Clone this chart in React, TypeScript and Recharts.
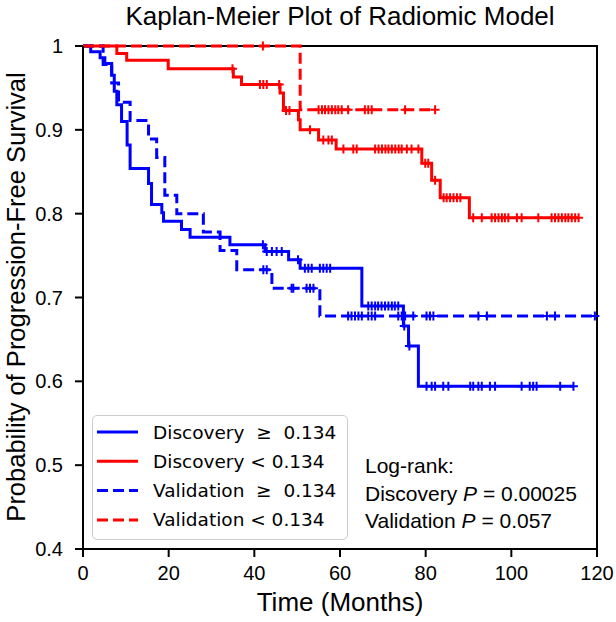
import { LineChart, Line, XAxis, YAxis, ReferenceArea } from "recharts";

const xTicks = [0, 20, 40, 60, 80, 100, 120];
const yTicks = [0.4, 0.5, 0.6, 0.7, 0.8, 0.9, 1];

// Discovery >= 0.134 (blue, solid)
const discHighTimes = [0, 1.8, 4.0, 5.1, 6.7, 7.3, 7.9, 9.0, 10.3, 11.0, 15.3, 16.0, 18.4, 18.8, 23.0, 25.0, 34.3, 42.5, 48.0, 50.7, 65.1, 74.8, 76.0, 78.3];
const discHighSurv = [1, 0.993, 0.986, 0.979, 0.965, 0.946, 0.93, 0.91, 0.882, 0.854, 0.836, 0.811, 0.801, 0.791, 0.781, 0.772, 0.763, 0.755, 0.745, 0.735, 0.69, 0.666, 0.642, 0.594];
const discHighCensor = [42.0, 42.9, 44.1, 45.2, 46.4, 50.2, 51.8, 52.6, 53.4, 55.3, 56.1, 56.9, 57.7, 66.6, 67.4, 68.2, 68.9, 69.7, 70.5, 71.3, 72.1, 72.8, 73.6, 75.0, 76.2, 80.2, 81.4, 82.2, 84.1, 85.3, 90.4, 91.1, 92.3, 93.1, 95.0, 96.2, 102.4, 104.3, 105.1, 105.9, 111.4, 114.5];

// Discovery < 0.134 (red, solid)
const discLowTimes = [0, 7.9, 10.2, 19.9, 35.1, 37.0, 46.0, 46.8, 50.3, 50.7, 55.0, 59.1, 79.1, 81.4, 83.4, 90.2];
const discLowSurv = [1, 0.991, 0.983, 0.973, 0.963, 0.954, 0.944, 0.923, 0.912, 0.9, 0.888, 0.877, 0.86, 0.84, 0.819, 0.795];
const discLowCensor = [34.9, 41.3, 42.1, 42.9, 45.8, 47.4, 48.2, 53.0, 56.1, 57.3, 58.1, 60.8, 63.1, 63.9, 68.2, 69.0, 69.8, 70.6, 71.3, 72.1, 72.9, 73.7, 74.4, 75.6, 76.7, 78.3, 79.9, 80.6, 82.2, 84.2, 84.9, 85.7, 86.5, 87.3, 88.1, 91.1, 93.1, 95.4, 96.2, 97.0, 97.8, 98.5, 99.3, 101.3, 102.4, 106.3, 109.4, 110.2, 111.0, 111.8, 112.6, 113.3, 114.1, 114.9, 115.7];

// Validation >= 0.134 (blue, dashed)
const valHighTimes = [0, 4.7, 6.7, 8.3, 11.0, 15.3, 17.2, 19.1, 21.9, 28.1, 32.0, 35.9, 44.1, 55.3];
const valHighSurv = [1, 0.978, 0.956, 0.933, 0.911, 0.889, 0.867, 0.822, 0.8, 0.778, 0.756, 0.733, 0.711, 0.678];
const valHighCensor = [42.1, 42.9, 48.7, 49.1, 52.2, 53.0, 53.8, 61.9, 62.7, 63.5, 64.3, 65.1, 66.6, 67.4, 68.2, 73.6, 74.4, 75.2, 77.1, 80.2, 81.0, 81.8, 92.3, 94.3, 108.3, 110.2, 119.5];

// Validation < 0.134 (red, dashed)
const valLowTimes = [0, 50.7];
const valLowSurv = [1, 0.924];
const valLowCensor = [42.0, 55.0, 55.8, 56.5, 57.3, 58.1, 58.9, 59.6, 60.4, 61.9, 65.8, 66.6, 67.4, 75.2, 82.2];

const legendLabels = ["Discovery  \u2265  0.134", "Discovery < 0.134", "Validation  \u2265  0.134", "Validation < 0.134"];
const logRankLines = ["Discovery", "Validation"];
const logRankP = ["0.00025", "0.057"];

const BLUE = "#0000ff";
const RED = "#ff0000";

type Pt = { t: number; s: number; c: boolean };

function buildSeries(times: number[], surv: number[], censor: number[]): Pt[] {
  const pts: Pt[] = times.map((t, i) => ({ t, s: surv[i], c: false }));
  censor.forEach((t) => {
    let s = surv[0];
    times.forEach((et, i) => {
      if (et <= t) s = surv[i];
    });
    pts.push({ t, s, c: true });
  });
  return pts.sort((a, b) => a.t - b.t || (a.c ? 1 : -1));
}

const series = [
  { key: "dh", data: buildSeries(discHighTimes, discHighSurv, discHighCensor), color: BLUE, dash: undefined },
  { key: "dl", data: buildSeries(discLowTimes, discLowSurv, discLowCensor), color: RED, dash: undefined },
  { key: "vh", data: buildSeries(valHighTimes, valHighSurv, valHighCensor), color: BLUE, dash: "11 5" },
  { key: "vl", data: buildSeries(valLowTimes, valLowSurv, valLowCensor), color: RED, dash: "11 5" },
];

const CensorMark = (props: any) => {
  const { cx, cy, payload, index, stroke } = props;
  if (!payload || !payload.c) return <g key={`n${index}`} />;
  return (
    <path
      key={`c${index}`}
      d={`M${cx - 4.5},${cy}H${cx + 4.5}M${cx},${cy - 4.5}V${cy + 4.5}`}
      stroke={stroke}
      strokeWidth={2}
      strokeDasharray="none"
      fill="none"
    />
  );
};

const sans = "'Liberation Sans', Arial, sans-serif";

export default function App() {
  return (
    <div style={{ position: "absolute", left: 0, top: 0, width: 616, height: 622, background: "#fff" }}>
      <LineChart width={616} height={622} margin={{ top: 46, right: 19, left: 23, bottom: 43 }}>
        <XAxis
          dataKey="t"
          type="number"
          domain={[0, 120]}
          ticks={xTicks}
          tickSize={8}
          tickMargin={9}
          height={30}
          axisLine={{ stroke: "#000", strokeWidth: 2 }}
          tickLine={{ stroke: "#000", strokeWidth: 2 }}
          tick={{ fill: "#000", fontSize: 20, fontFamily: sans }}
        />
        <YAxis
          type="number"
          domain={[0.4, 1]}
          ticks={yTicks}
          width={60}
          tickSize={8}
          tickMargin={12}
          tickFormatter={(v: number) => (v === 1 ? "1" : v.toFixed(1))}
          axisLine={{ stroke: "#000", strokeWidth: 2 }}
          tickLine={{ stroke: "#000", strokeWidth: 2 }}
          tick={{ fill: "#000", fontSize: 20, fontFamily: sans }}
        />
        {series.map((sr) => (
          <Line
            key={sr.key}
            data={sr.data}
            dataKey="s"
            type="stepAfter"
            stroke={sr.color}
            strokeWidth={3}
            strokeDasharray={sr.dash}
            dot={CensorMark}
            activeDot={false}
            isAnimationActive={false}
          />
        ))}
        <ReferenceArea x1={0} x2={120} y1={0.4} y2={1} fill="none" stroke="#000" strokeWidth={2} fillOpacity={0} />
      </LineChart>

      <svg width={616} height={622} style={{ position: "absolute", left: 0, top: 0, pointerEvents: "none" }}>
        <text x={340} y={25} textAnchor="middle" fontSize={26} fontFamily={sans} fill="#000">
          Kaplan-Meier Plot of Radiomic Model
        </text>
        <text x={340} y={611} textAnchor="middle" fontSize={26} fontFamily={sans} fill="#000">
          Time (Months)
        </text>
        <text
          x={24.5}
          y={297}
          textAnchor="middle"
          fontSize={25.5}
          fontFamily={sans}
          fill="#000"
          transform="rotate(-90, 24.5, 297)"
        >
          Probability of Progression-Free Survival
        </text>
        <g fontSize={21} fontFamily={sans} fill="#000">
          <text x={365} y={473}>Log-rank:</text>
          {logRankLines.map((name, i) => (
            <text key={name} x={365} y={501 + i * 27}>
              {name} <tspan fontStyle="italic">P</tspan> = {logRankP[i]}
            </text>
          ))}
        </g>
      </svg>

      <div
        style={{
          position: "absolute",
          left: 92,
          top: 415,
          width: 256,
          height: 125,
          boxSizing: "border-box",
          border: "1.5px solid #cccccc",
          borderRadius: 5,
          background: "rgba(255,255,255,0.8)",
        }}
      >
        <svg width={256} height={125} style={{ position: "absolute", left: -1.5, top: -1.5 }}>
          {legendLabels.map((label, i) => {
            const y = 17 + i * 29.3;
            const sr = series[i];
            return (
              <g key={label}>
                <line x1={5} x2={46} y1={y} y2={y} stroke={sr.color} strokeWidth={3} strokeDasharray={sr.dash} />
                <text
                  x={61}
                  y={y}
                  dominantBaseline="central"
                  fontSize={18.5}
                  fontFamily="'DejaVu Sans', sans-serif"
                  fill="#000"
                  style={{ whiteSpace: "pre" }}
                >
                  {label}
                </text>
              </g>
            );
          })}
        </svg>
      </div>
    </div>
  );
}
